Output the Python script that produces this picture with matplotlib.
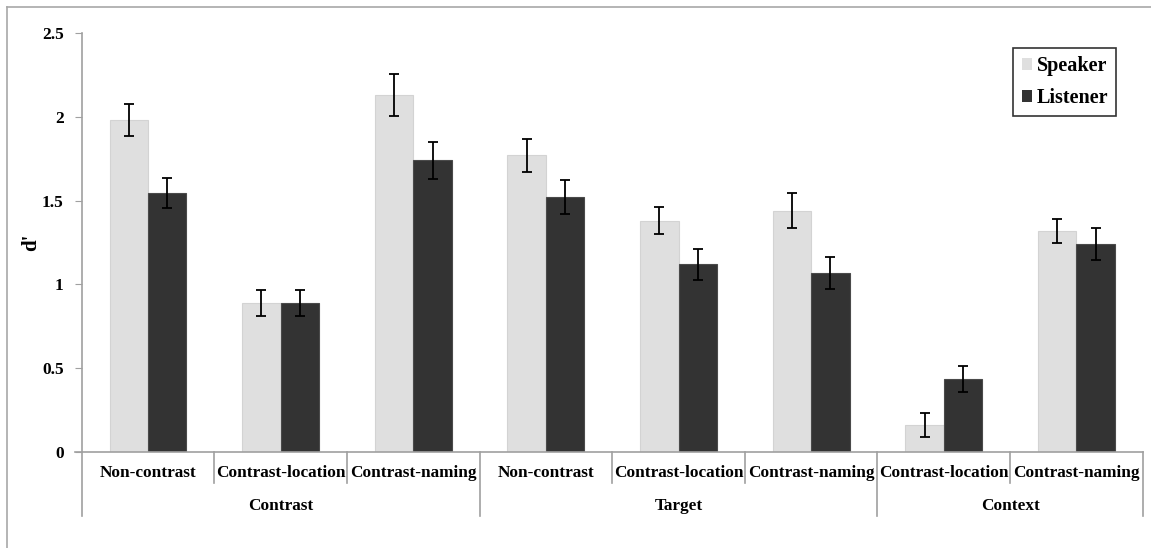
import numpy as np
import matplotlib
matplotlib.use("Agg")
from matplotlib import pyplot as plt
from matplotlib.lines import Line2D
from matplotlib.patches import Patch
import matplotlib.transforms as mtransforms

# d' per condition, grouped by stimulus type
groups = ['Contrast', 'Target', 'Context']
group_sizes = [3, 3, 2]
conditions = ['Non-contrast', 'Contrast-location', 'Contrast-naming',
              'Non-contrast', 'Contrast-location', 'Contrast-naming',
              'Contrast-location', 'Contrast-naming']
speaker = [1.98, 0.89, 2.13, 1.77, 1.38, 1.44, 0.16, 1.32]
speaker_err = [0.095, 0.076, 0.123, 0.10, 0.082, 0.103, 0.07, 0.072]
listener = [1.545, 0.89, 1.74, 1.52, 1.12, 1.07, 0.435, 1.24]
listener_err = [0.088, 0.076, 0.11, 0.10, 0.094, 0.095, 0.077, 0.095]

plt.rcParams['font.family'] = ['Liberation Serif', 'DejaVu Serif']
plt.rcParams['font.weight'] = 'bold'

fig = plt.figure(figsize=(11.51, 5.48), dpi=100)
ax = fig.add_axes([0.071, 0.1752, 0.9218, 0.7646])

x = np.arange(len(conditions))
w = 0.29
err_kw = dict(ecolor='black', elinewidth=1.3, capsize=3.5, capthick=1.3)
ax.bar(x - w / 2, speaker, w, yerr=speaker_err, color='#dfdfdf',
       edgecolor='#d3d3d3', linewidth=0.8, error_kw=err_kw, label='Speaker')
ax.bar(x + w / 2, listener, w, yerr=listener_err, color='#333333',
       edgecolor='#4a4a4a', linewidth=0.8, error_kw=err_kw, label='Listener')

ax.set_xlim(-0.5, len(conditions) - 0.5)
ax.set_ylim(0, 2.5)
ax.set_yticks([0, 0.5, 1, 1.5, 2, 2.5])
ax.set_yticklabels(['0', '0.5', '1', '1.5', '2', '2.5'], fontsize=12.5, fontweight='bold')
ax.tick_params(axis='y', length=5, color='#a0a0a0', pad=8)
ax.set_xticks([])
ax.set_ylabel("d'", fontsize=15, fontweight='bold')
ax.yaxis.set_label_coords(-0.038, 0.5)

for side in ['top', 'right']:
    ax.spines[side].set_visible(False)
for side in ['left', 'bottom']:
    ax.spines[side].set_color('#a0a0a0')
    ax.spines[side].set_linewidth(1.2)
ax.spines['bottom'].set_bounds(-0.55, len(conditions) - 0.5)

# two-level category axis
trans = mtransforms.blended_transform_factory(ax.transData, ax.transAxes)
group_edges = np.cumsum([0] + group_sizes) - 0.5
for i in range(len(conditions) + 1):
    xb = i - 0.5
    low = -0.153 if xb in group_edges else -0.074
    ax.add_line(Line2D([xb, xb], [0, low], transform=trans, color='#a0a0a0',
                       linewidth=1.2, clip_on=False))
for i, name in enumerate(conditions):
    ax.text(i, -0.05, name, transform=trans, ha='center', va='center',
            fontsize=12.4, fontweight='bold')
for k, name in enumerate(groups):
    mid = (group_edges[k] + group_edges[k + 1]) / 2
    ax.text(mid, -0.129, name, transform=trans, ha='center', va='center',
            fontsize=12.4, fontweight='bold')

handles = [Patch(facecolor='#dfdfdf', edgecolor='none', label='Speaker'),
           Patch(facecolor='#333333', edgecolor='none', label='Listener')]
leg = ax.legend(handles=handles, loc='upper right', bbox_to_anchor=(0.975, 0.964),
                frameon=True, fancybox=False, prop={'size': 14.5, 'weight': 'bold'},
                handlelength=0.5, handleheight=0.5, handletextpad=0.25,
                borderpad=0.4, labelspacing=0.6, borderaxespad=0)
leg.get_frame().set_edgecolor('black')
leg.get_frame().set_linewidth(1.2)

# outer chart border
fig.add_artist(Line2D([7 / 1151, 1], [1 - 7 / 548] * 2, color='#a8a8a8',
                      linewidth=1.2, transform=fig.transFigure))
fig.add_artist(Line2D([7 / 1151] * 2, [0, 1 - 7 / 548], color='#a8a8a8',
                      linewidth=1.2, transform=fig.transFigure))

fig.savefig('out.png', dpi=100)
